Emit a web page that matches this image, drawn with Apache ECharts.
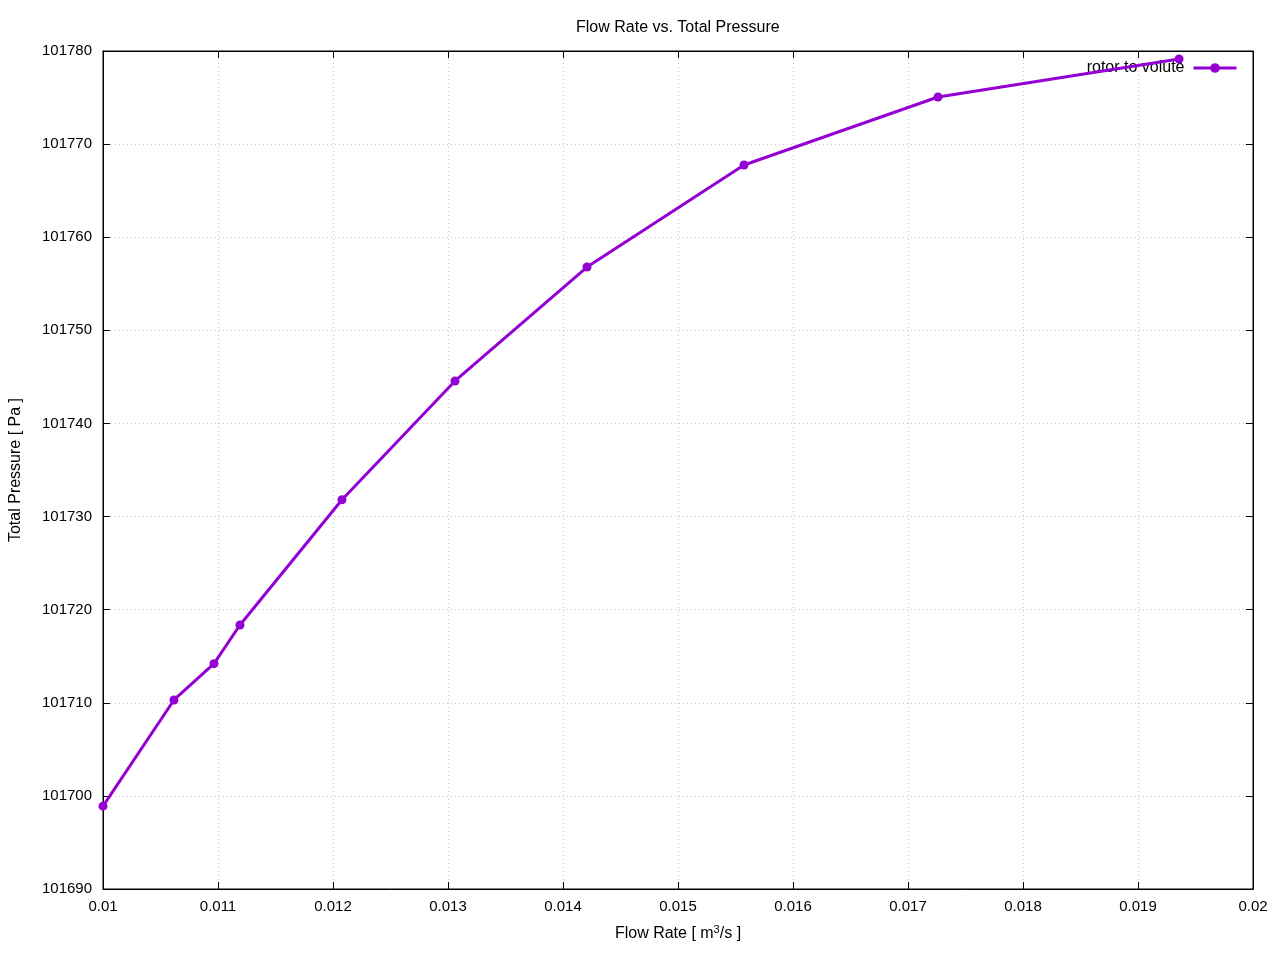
<!DOCTYPE html>
<html>
<head>
<meta charset="utf-8">
<script src="https://cdn.jsdelivr.net/npm/echarts@6/dist/echarts.min.js"></script>
<style>html,body{margin:0;padding:0;background:#fff}#c{width:1280px;height:960px}</style>
</head>
<body>
<div id="c"></div>
<script>
const flowRate = [0.01, 0.010617, 0.010965, 0.011191, 0.012078, 0.013061, 0.014209, 0.015574, 0.017261, 0.019357];
const totalPressure = [101698.9, 101710.3, 101714.2, 101718.35, 101731.8, 101744.56, 101756.8, 101767.76, 101775.06, 101779.14];
const seriesName = 'rotor to volute';

const chart = echarts.init(document.getElementById('c'));
const font = 'Liberation Sans, Arial, sans-serif';
const data = flowRate.map((x, i) => [x, totalPressure[i]]);
const gridLine = {show: true, lineStyle: {color: '#c8c8c8', type: [1, 3], width: 1}};
chart.setOption({
  animation: false,
  textStyle: {fontFamily: font, color: '#000'},
  title: {
    text: 'Flow Rate vs. Total Pressure',
    left: 571, top: 15,
    textStyle: {fontSize: 16, fontWeight: 'normal', color: '#000', fontFamily: font}
  },
  legend: {
    right: 37, top: 55,
    align: 'right',
    itemWidth: 43, itemHeight: 12, itemGap: 10,
    lineStyle: {width: 3},
    textStyle: {fontSize: 16, color: '#000', fontFamily: font, padding: [0, 4, 0, 0]},
    data: [seriesName]
  },
  grid: {left: 103, right: 27, top: 51, bottom: 71, show: true, borderColor: '#000', borderWidth: 1, containLabel: false},
  xAxis: [{
    type: 'value', min: 0.01, max: 0.02, interval: 0.001,
    name: 'Flow Rate [ m{sup|3}/s ]', nameLocation: 'middle', nameGap: 35,
    nameTextStyle: {fontSize: 16, color: '#000', fontFamily: font, rich: {sup: {fontSize: 11, verticalAlign: 'top', padding: [0, 0, 8, 0], color: '#000', fontFamily: font}}},
    axisLine: {show: true, lineStyle: {color: '#000'}},
    axisTick: {show: true, inside: true, length: 7, lineStyle: {color: '#000'}},
    axisLabel: {fontSize: 15, color: '#000', margin: 10, fontFamily: font, formatter: v => String(+v.toFixed(4))},
    splitLine: gridLine
  }, {
    type: 'value', position: 'top', min: 0.01, max: 0.02, interval: 0.001,
    axisLine: {show: true, lineStyle: {color: '#000'}},
    axisTick: {show: true, inside: true, length: 7, lineStyle: {color: '#000'}},
    axisLabel: {show: false}, splitLine: {show: false}
  }],
  yAxis: [{
    type: 'value', min: 101690, max: 101780, interval: 10,
    name: 'Total Pressure [ Pa ]', nameLocation: 'middle', nameGap: 79,
    nameTextStyle: {fontSize: 16, color: '#000', fontFamily: font},
    axisLine: {show: true, lineStyle: {color: '#000'}},
    axisTick: {show: true, inside: true, length: 7, lineStyle: {color: '#000'}},
    axisLabel: {fontSize: 15, color: '#000', margin: 11, fontFamily: font, formatter: v => String(Math.round(v))},
    splitLine: gridLine
  }, {
    type: 'value', position: 'right', min: 101690, max: 101780, interval: 10,
    axisLine: {show: true, lineStyle: {color: '#000'}},
    axisTick: {show: true, inside: true, length: 7, lineStyle: {color: '#000'}},
    axisLabel: {show: false}, splitLine: {show: false}
  }],
  series: [{
    name: seriesName, type: 'line', data: data,
    xAxisIndex: 0, yAxisIndex: 0,
    symbol: 'circle', symbolSize: 9,
    lineStyle: {color: '#9400d3', width: 3},
    itemStyle: {color: '#9400d3'},
    z: 5
  }]
});
</script>
</body>
</html>
